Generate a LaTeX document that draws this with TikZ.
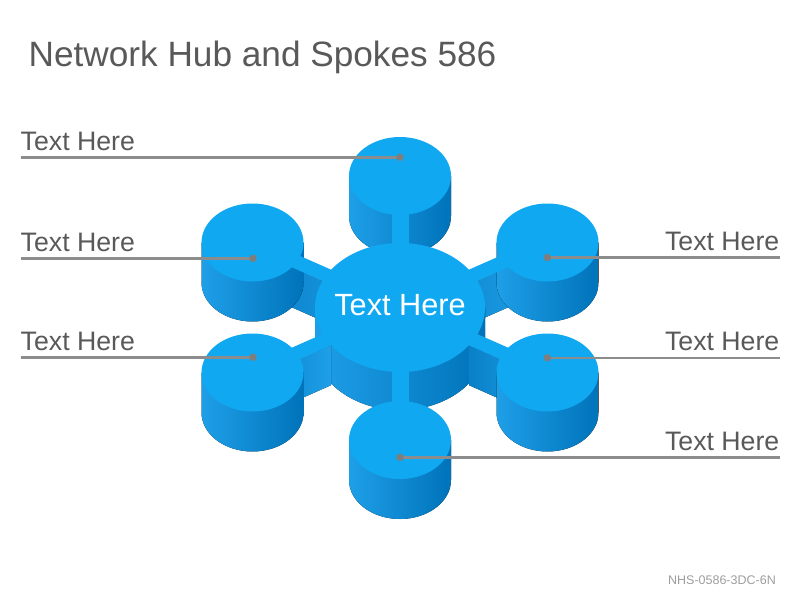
\documentclass[tikz,border=0pt]{standalone}
\usepackage{fontspec}
\setmainfont{Liberation Sans}
\definecolor{hubtop}{HTML}{10A8F0}
\definecolor{hublight}{HTML}{1E9FE8}
\definecolor{hubdark}{HTML}{0073BA}
\definecolor{leadgray}{HTML}{8C8C8C}
\definecolor{textgray}{HTML}{595959}
\tikzset{
  topface/.style={fill=hubtop},
  wall/.style={left color=hublight, right color=hubdark},
  spokewall/.style={left color=hubdark!70!hublight, right color=hublight},
  leader/.style={draw=leadgray, line width=2.5pt},
  leaddot/.style={circle, fill=leadgray!90!black, inner sep=0pt, minimum size=7.5pt},
  sidetext/.style={font=\fontsize{26.7}{30}\selectfont, text=textgray, inner sep=0pt},
}
\begin{document}
\begin{tikzpicture}[x=1pt, y={(0,-1pt)}]
    \useasboundingbox (0,0) rectangle (800,600);
    % back cylinder and upper spokes
    \fill[wall] (349,176) -- ++(0,40) arc[start angle=180, end angle=360, x radius=51pt, y radius=39pt] -- ++(0,-40) -- cycle;
    \fill[spokewall] (248.25,248.1) -- (395.75,313.1) -- ++(0,40) -- (248.25,288.1) -- cycle;
    \fill[spokewall] (404.25,313.1) -- (551.75,248.1) -- ++(0,40) -- (404.25,353.1) -- cycle;
    \foreach \cx/\cy in {252.5/242.5, 547.5/242.5}
      \fill[wall] (\cx-51,\cy) -- ++(0,40) arc[start angle=180, end angle=360, x radius=51pt, y radius=39pt] -- ++(0,-40) -- cycle;
    % hub wall
    \fill[wall] (315,307.5) -- ++(0,38) arc[start angle=180, end angle=360, x radius=85pt, y radius=64.5pt] -- ++(0,-38) -- cycle;
    % lower spokes and front cylinders
    \fill[spokewall] (331,345.2) -- (256.75,378.1) -- ++(0,40) -- (331,385.2) -- cycle;
    \fill[spokewall] (469,345.2) -- (543.25,378.1) -- ++(0,40) -- (469,385.2) -- cycle;
    \foreach \cx/\cy in {252.5/372.5, 547.5/372.5, 400/440}
      \fill[wall] (\cx-51,\cy) -- ++(0,40) arc[start angle=180, end angle=360, x radius=51pt, y radius=39pt] -- ++(0,-40) -- cycle;
    % top faces
    \fill[topface] (391.5,176) rectangle (408.5,307.5);
    \fill[topface] (391.5,307.5) rectangle (408.5,440);
    \fill[topface] (404.25,301.9) -- (395.75,313.1) -- (248.25,248.1) -- (256.75,236.9) -- cycle;
    \fill[topface] (395.75,301.9) -- (404.25,313.1) -- (551.75,248.1) -- (543.25,236.9) -- cycle;
    \fill[topface] (395.75,301.9) -- (404.25,313.1) -- (256.75,378.1) -- (248.25,366.9) -- cycle;
    \fill[topface] (404.25,301.9) -- (395.75,313.1) -- (543.25,378.1) -- (551.75,366.9) -- cycle;
    \fill[topface] (400,307.5) ellipse[x radius=85pt, y radius=64.5pt];
    \foreach \cx/\cy in {400/176, 252.5/242.5, 547.5/242.5, 252.5/372.5, 547.5/372.5, 400/440}
      \fill[topface] (\cx,\cy) ellipse[x radius=51pt, y radius=39pt];

    \node[font=\fontsize{30.7}{34}\selectfont, text=white, inner sep=0pt, anchor=base] (hub) at (400,315) {Text Here};

    % labels and leaders
    \coordinate (p1) at (400,157.3);
    \coordinate (p2) at (253,258.3);
    \coordinate (p3) at (253,357.3);
    \coordinate (p4) at (547.3,257.5);
    \coordinate (p5) at (547.3,357.8);
    \coordinate (p6) at (400,457.3);
    \node[sidetext, anchor=base west] (t1) at (20.5,150.7) {Text Here};
    \node[sidetext, anchor=base west] (t2) at (20.5,251.5) {Text Here};
    \node[sidetext, anchor=base west] (t3) at (20.5,350.5) {Text Here};
    \node[sidetext, anchor=base east] (t4) at (779.5,250) {Text Here};
    \node[sidetext, anchor=base east] (t5) at (779.5,350.3) {Text Here};
    \node[sidetext, anchor=base east] (t6) at (779.5,450) {Text Here};
    \draw[leader] (t1.base west |- p1) -- (p1) node[leaddot] {};
    \draw[leader] (t2.base west |- p2) -- (p2) node[leaddot] {};
    \draw[leader] (t3.base west |- p3) -- (p3) node[leaddot] {};
    \draw[leader] (t4.base east |- p4) -- (p4) node[leaddot] {};
    \draw[leader] (t5.base east |- p5) -- (p5) node[leaddot] {};
    \draw[leader] (t6.base east |- p6) -- (p6) node[leaddot] {};

    \node[font=\fontsize{35.2}{40}\selectfont, text=textgray, inner sep=0pt, anchor=base west] (title) at (28.5,66.7) {Network Hub and Spokes 586};
    \node[font=\fontsize{12.5}{14}\selectfont, text=black!38, inner sep=0pt, anchor=base east] (code) at (776,584) {NHS-0586-3DC-6N};
\end{tikzpicture}
\end{document}
